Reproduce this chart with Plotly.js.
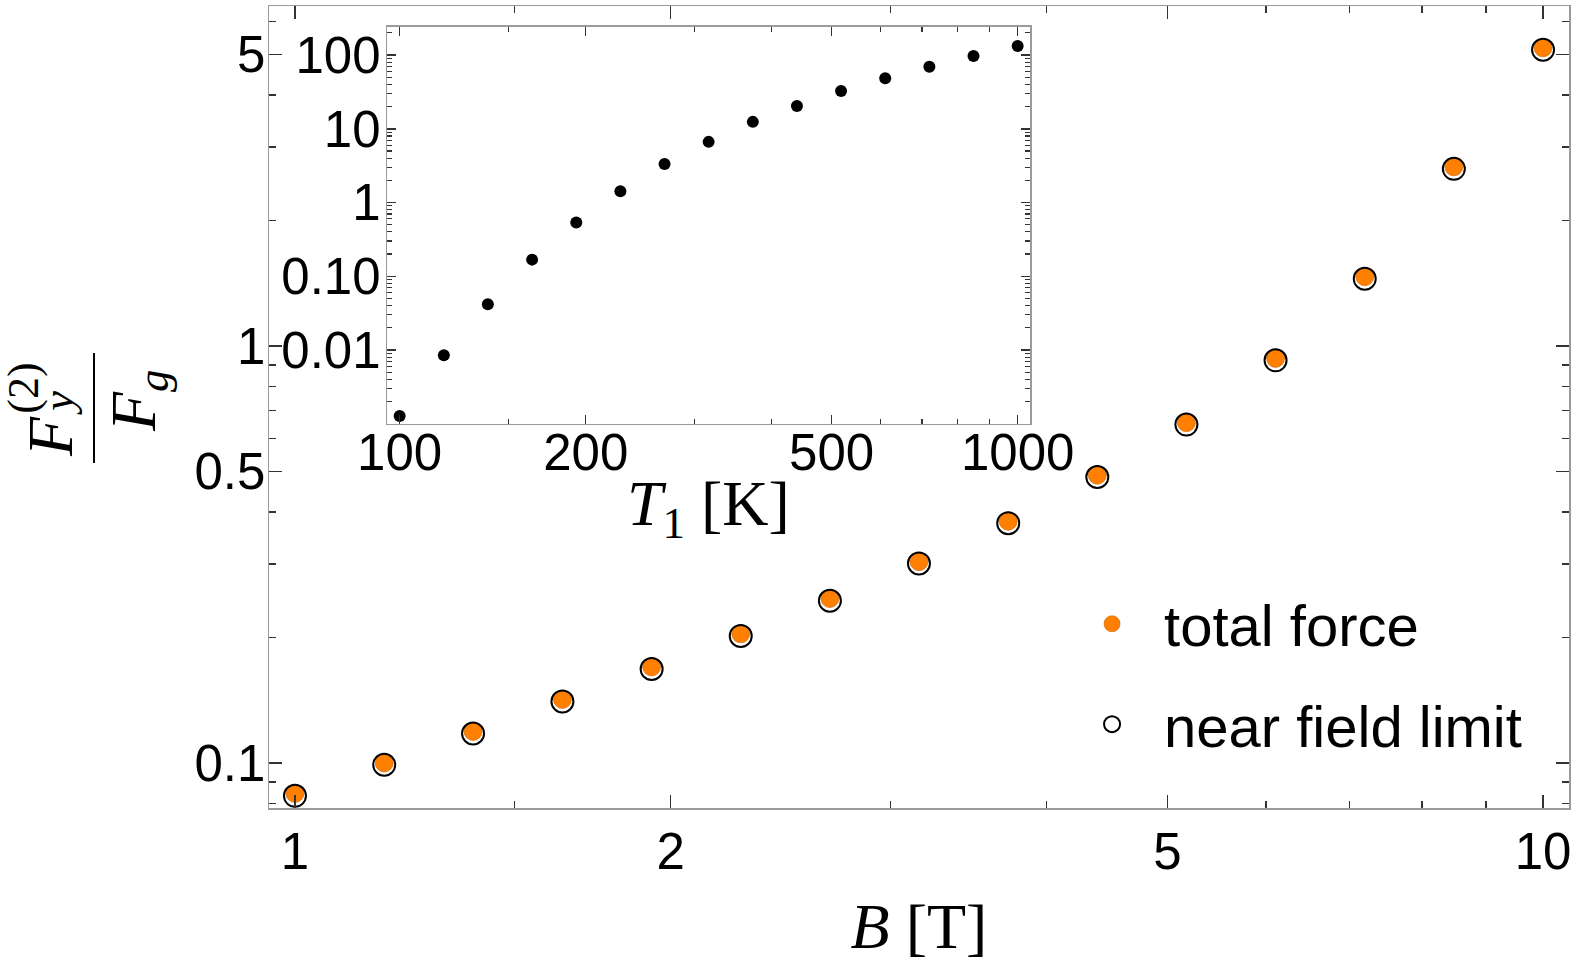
<!DOCTYPE html>
<html>
<head>
<meta charset="utf-8">
<script src="https://cdn.plot.ly/plotly-3.0.1.min.js"></script>
<style>
  html, body { margin: 0; padding: 0; background: #fff; }
  #chart { width: 1578px; height: 977px; }
</style>
</head>
<body>
<div id="chart"></div>
<script>
// Main panel: force ratio vs magnetic field
const B = [1, 1.179, 1.389, 1.638, 1.931, 2.276, 2.683, 3.162, 3.728, 4.394, 5.179, 6.105, 7.197, 8.483, 10];
const totalForce = [0.0845, 0.100, 0.119, 0.142, 0.170, 0.204, 0.248, 0.304, 0.380, 0.490, 0.655, 0.934, 1.466, 2.69, 5.19];
const nearField = [0.0834, 0.099, 0.1177, 0.1405, 0.168, 0.2017, 0.245, 0.301, 0.376, 0.485, 0.648, 0.924, 1.45, 2.66, 5.135];

// Inset: temperature dependence
const T1 = [100, 117.9, 138.9, 163.8, 193.1, 227.6, 268.3, 316.2, 372.8, 439.4, 517.9, 610.5, 719.7, 848.3, 1000];
const insetRatio = [0.00127, 0.00847, 0.0417, 0.168, 0.537, 1.42, 3.32, 6.64, 12.4, 20.3, 32.5, 48.3, 69.3, 96.9, 132.5];

// Tick labels
const mainXTicks = [1, 2, 5, 10];
const mainXMinor = [1.5, 3, 4, 6, 7, 8, 9];
const mainYTicks = [0.1, 0.5, 1, 5];
const mainYText = ['0.1', '0.5', '1', '5'];
const mainYMinor = [0.08, 0.09, 0.2, 0.3, 0.4, 0.6, 0.7, 0.8, 0.9, 2, 3, 4, 6];
const insetXTicks = [100, 200, 500, 1000];
const insetXMinor = [150, 300, 400, 600, 700, 800, 900];
const insetYTicks = [0.01, 0.1, 1, 10, 100];
const insetYText = ['0.01', '0.10', '1', '10', '100'];
const insetYMinor = [0.002, 0.003, 0.004, 0.005, 0.006, 0.007, 0.008, 0.009,
  0.02, 0.03, 0.04, 0.05, 0.06, 0.07, 0.08, 0.09,
  0.2, 0.3, 0.4, 0.5, 0.6, 0.7, 0.8, 0.9,
  2, 3, 4, 5, 6, 7, 8, 9,
  20, 30, 40, 50, 60, 70, 80, 90, 200];

const frameColor = '#9a9a9a';
const tickColor = '#333';
const sans = 'Liberation Sans, Arial, sans-serif';
const serif = 'Liberation Serif, Times New Roman, serif';

const traces = [
  {
    x: B, y: totalForce, type: 'scatter', mode: 'markers', name: 'total force',
    legendgroup: 'a',
    marker: { color: '#ff8000', size: 18, line: { width: 0.6, color: '#c86000' } }
  },
  {
    x: B, y: nearField, type: 'scatter', mode: 'markers', name: 'near field limit',
    legendgroup: 'b',
    marker: { symbol: 'circle-open', color: '#000', size: 22, line: { width: 2 } }
  },
  {
    x: T1, y: insetRatio, type: 'scatter', mode: 'markers', xaxis: 'x2', yaxis: 'y2',
    showlegend: false,
    marker: { color: '#000', size: 12 }
  }
];

function logAxis(extra) {
  return Object.assign({
    type: 'log', showgrid: false, zeroline: false,
    showline: true, linecolor: frameColor, linewidth: 1.5, mirror: 'ticks',
    ticks: 'inside', tickcolor: tickColor, tickwidth: 1.5,
    tickfont: { family: sans, size: 51, color: '#000' }
  }, extra);
}

const layout = {
  width: 1578, height: 977,
  margin: { l: 269, r: 9, t: 6, b: 169 },
  paper_bgcolor: '#fff', plot_bgcolor: '#fff',
  font: { family: sans, color: '#000' },
  showlegend: true,
  legend: {
    x: 0.6085, y: 0.167, xanchor: 'left', yanchor: 'middle',
    font: { family: sans, size: 58, color: '#000' },
    bgcolor: 'rgba(0,0,0,0)', traceorder: 'grouped', tracegroupgap: 22,
    itemwidth: 94
  },
  xaxis: logAxis({
    range: [-0.0208, 1.0208], domain: [0, 1], anchor: 'y',
    tickmode: 'array', tickvals: mainXTicks, ticktext: mainXTicks.map(String), ticklen: 13,
    minor: { tickmode: 'array', tickvals: mainXMinor, ticks: 'inside', ticklen: 7, tickcolor: tickColor, tickwidth: 1.5 },
    ticklabelstandoff: -2,
    title: { text: '<i>B</i> [T]', font: { family: serif, size: 64, color: '#000' }, standoff: 24 }
  }),
  yaxis: logAxis({
    range: [-1.108, 0.8155], domain: [0, 1], anchor: 'x',
    tickmode: 'array', tickvals: mainYTicks, ticktext: mainYText, ticklen: 13,
    minor: { tickmode: 'array', tickvals: mainYMinor, ticks: 'inside', ticklen: 7, tickcolor: tickColor, tickwidth: 1.5 },
    ticklabelstandoff: -8
  }),
  xaxis2: logAxis({
    range: [1.980, 3.020], domain: [0.091, 0.5854], anchor: 'y2',
    tickmode: 'array', tickvals: insetXTicks, ticktext: insetXTicks.map(String), ticklen: 9,
    minor: { tickmode: 'array', tickvals: insetXMinor, ticks: 'inside', ticklen: 5, tickcolor: tickColor, tickwidth: 1.2 },
    ticklabelstandoff: -16
  }),
  yaxis2: logAxis({
    range: [-2.997, 2.384], domain: [0.4794, 0.9742], anchor: 'x2',
    tickmode: 'array', tickvals: insetYTicks, ticktext: insetYText, ticklen: 9,
    minor: { tickmode: 'array', tickvals: insetYMinor, ticks: 'inside', ticklen: 5, tickcolor: tickColor, tickwidth: 1.2 },
    ticklabelstandoff: -5
  }),
  annotations: [
    // inset x title
    { xref: 'paper', yref: 'paper', x: 0.3377, y: 0.374, xanchor: 'center', yanchor: 'middle',
      showarrow: false, text: '<i>T</i><sub>1</sub> [K]', font: { family: serif, size: 64, color: '#000' } },
    // y-axis label drawn as a stacked fraction F_y^(2) / F_g
    { xref: 'paper', yref: 'paper', x: -0.1685, y: 0.4638, xanchor: 'center', yanchor: 'middle',
      textangle: -90, showarrow: false,
      text: '<i>F</i>', font: { family: serif, size: 64, color: '#000' } },
    { xref: 'paper', yref: 'paper', x: -0.1623, y: 0.505, xanchor: 'center', yanchor: 'middle',
      textangle: -90, showarrow: false,
      text: '<i>y</i>', font: { family: serif, size: 45, color: '#000' } },
    { xref: 'paper', yref: 'paper', x: -0.1885, y: 0.524, xanchor: 'center', yanchor: 'middle',
      textangle: -90, showarrow: false,
      text: '(2)', font: { family: serif, size: 44, color: '#000' } },
    { xref: 'paper', yref: 'paper', x: -0.1008, y: 0.5087, xanchor: 'center', yanchor: 'middle',
      textangle: -90, showarrow: false,
      text: '<i>F</i><sub><i>g</i></sub>', font: { family: serif, size: 64, color: '#000' } }
  ],
  shapes: [
    { type: 'line', xref: 'paper', yref: 'paper', x0: -0.1346, x1: -0.1346, y0: 0.4302, y1: 0.5673,
      line: { color: '#000', width: 2 } }
  ]
};

Plotly.newPlot('chart', traces, layout, { displayModeBar: false, staticPlot: true });
</script>
</body>
</html>
